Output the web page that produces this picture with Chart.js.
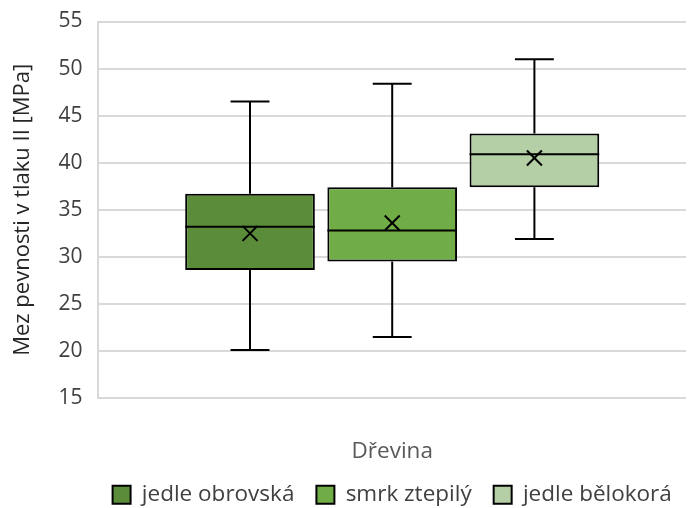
<!DOCTYPE html>
<html>
<head>
<meta charset="utf-8">
<script src="https://cdn.jsdelivr.net/npm/chart.js@4"></script>
<style>
  html, body { margin: 0; padding: 0; background: #fff; }
  #wrap { width: 688px; height: 508px; }
</style>
</head>
<body>
<div id="wrap"><canvas id="boxChart"></canvas></div>
<script>
// Mez pevnosti v tlaku podél vláken - krabicové grafy podle dřeviny
const species = ['jedle obrovská', 'smrk ztepilý', 'jedle bělokorá'];
const colors = ['#5B8C3A', '#70AD47', '#B4CFA6'];
const mins = [20.1, 21.5, 31.9];
const q1s = [28.6, 29.5, 37.4];
const medians = [33.2, 32.8, 40.9];
const q3s = [36.7, 37.4, 43.1];
const maxs = [46.5, 48.4, 51.0];
const means = [32.5, 33.6, 40.5];
const yTicks = [15, 20, 25, 30, 35, 40, 45, 50, 55];

const FONT = "'Open Sans', 'Noto Sans', sans-serif";

// whiskers, median and mean marker on top of the floating bars
const boxPlugin = {
    id: 'boxExtras',
    afterLayout(chart) {
        // center the legend under the plot area, not the whole canvas
        const lg = chart.legend;
        if (!lg) return;
        const shift = (chart.chartArea.left + chart.chartArea.right) / 2 - (lg.left + lg.right) / 2;
        lg.left += shift;
        lg.right += shift;
    },
    afterDatasetsDraw(chart) {
        const ctx = chart.ctx;
        const y = chart.scales.y;
        ctx.save();
        ctx.strokeStyle = '#000';
        ctx.lineWidth = 2;
        species.forEach((name, i) => {
            const bar = chart.getDatasetMeta(i).data[0];
            if (!bar) return;
            const cx = bar.x;
            const half = bar.width / 2;
            const cap = bar.width * 0.15;
            const line = (x1, y1, x2, y2) => {
                ctx.beginPath();
                ctx.moveTo(x1, y1);
                ctx.lineTo(x2, y2);
                ctx.stroke();
            };
            // whiskers
            line(cx, y.getPixelForValue(q3s[i]), cx, y.getPixelForValue(maxs[i]));
            line(cx, y.getPixelForValue(q1s[i]), cx, y.getPixelForValue(mins[i]));
            line(cx - cap, y.getPixelForValue(maxs[i]), cx + cap, y.getPixelForValue(maxs[i]));
            line(cx - cap, y.getPixelForValue(mins[i]), cx + cap, y.getPixelForValue(mins[i]));
            // median
            line(cx - half, y.getPixelForValue(medians[i]), cx + half, y.getPixelForValue(medians[i]));
            // mean
            const my = y.getPixelForValue(means[i]);
            const s = 7.5;
            line(cx - s, my - s, cx + s, my + s);
            line(cx - s, my + s, cx + s, my - s);
        });
        ctx.restore();
    }
};

document.addEventListener('DOMContentLoaded', () => {
    const ctx = document.getElementById('boxChart').getContext('2d');
    new Chart(ctx, {
        type: 'bar',
        data: {
            labels: [''],
            datasets: species.map((name, i) => ({
                label: name,
                data: [[q1s[i], q3s[i]]],
                backgroundColor: colors[i],
                borderColor: '#000',
                borderWidth: 2,
                borderSkipped: false
            }))
        },
        options: {
            responsive: true,
            maintainAspectRatio: false,
            animation: false,
            categoryPercentage: 0.726,
            barPercentage: 0.912,
            layout: { padding: { top: 3, right: 2, left: 10, bottom: -8 } },
            plugins: {
                tooltip: { enabled: false },
                legend: {
                    position: 'bottom',
                    labels: {
                        boxWidth: 18,
                        boxHeight: 18,
                        padding: 22,
                        color: '#404040',
                        font: { family: FONT, size: 22.5 }
                    }
                }
            },
            scales: {
                x: {
                    grid: { display: false },
                    border: { display: false },
                    ticks: { display: false },
                    title: {
                        display: true,
                        text: 'Dřevina',
                        color: '#595959',
                        font: { family: FONT, size: 22.5 },
                        padding: { top: 32.4, bottom: -4 }
                    }
                },
                y: {
                    min: 15,
                    max: 55,
                    afterBuildTicks: (axis) => {
                        axis.ticks = yTicks.map(v => ({ value: v }));
                    },
                    afterFit: (axis) => {
                        // keep the top label padding small so 55 sits near the top edge
                        axis.paddingTop = 21.5;
                    },
                    grid: { color: '#D9D9D9', lineWidth: 2, drawTicks: false },
                    border: { display: true, color: '#D9D9D9', width: 2 },
                    ticks: {
                        color: '#404040',
                        padding: 16,
                        font: { family: FONT, size: 21 }
                    },
                    title: {
                        display: true,
                        text: 'Mez pevnosti v tlaku II [MPa]',
                        color: '#262626',
                        font: { family: FONT, size: 22 },
                        padding: { top: 0, bottom: 6 }
                    }
                }
            }
        },
        plugins: [boxPlugin]
    });
});
</script>
</body>
</html>
